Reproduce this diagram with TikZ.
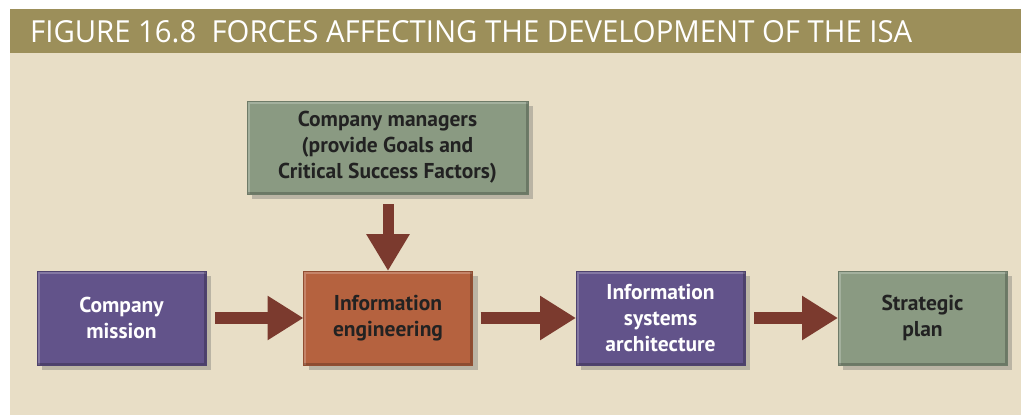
\documentclass[tikz,border=0pt]{standalone}
\usepackage{fontspec}
\setmainfont{PT Sans}
\newfontfamily\titlefont{Open Sans}
\usetikzlibrary{arrows.meta,shadows}
\definecolor{barcol}{HTML}{9C8F5A}
\definecolor{bgcol}{HTML}{E8DEC6}
\definecolor{greencol}{HTML}{8A9A82}
\definecolor{purplecol}{HTML}{62538A}
\definecolor{orangecol}{HTML}{B5623F}
\definecolor{arrowcol}{HTML}{7B3A2E}
\definecolor{darktext}{HTML}{222222}
\tikzset{
  fbox/.style={rectangle, outer sep=0pt, inner sep=2pt, align=center,
    font=\bfseries\fontsize{21.5}{26}\selectfont,
    drop shadow={shadow xshift=5pt, shadow yshift=-5pt, opacity=0.35, fill=black!60},
    path picture={
      \draw[white, opacity=0.22, line width=5pt]
        (path picture bounding box.south west) -- (path picture bounding box.north west) -- (path picture bounding box.north east);
      \draw[black, opacity=0.22, line width=5pt]
        (path picture bounding box.south west) -- (path picture bounding box.south east) -- (path picture bounding box.north east);
    }},
  smallbox/.style={fbox, minimum width=169pt, minimum height=94pt},
  greenbox/.style={fill=greencol, draw=greencol!80!black, text=darktext},
  purplebox/.style={fill=purplecol, draw=purplecol!80!black, text=white},
  orangebox/.style={fill=orangecol, draw=orangecol!80!black, text=darktext},
  bigarrow/.style={draw=arrowcol, line width=12pt, -{Triangle[length=36pt,width=42pt]}, arrowcol}
}
\begin{document}
\begin{tikzpicture}[x=1pt,y=-1pt]
\useasboundingbox (0,0) rectangle (1021,415);
\fill[white] (0,0) rectangle (1021,415);
\fill[bgcol] (10,53) rectangle (1021,415);
\fill[barcol] (10,9) rectangle (1021,53);
\node[anchor=base west, inner sep=0pt, text=white] (title) at (30,42.5)
  {\resizebox{882pt}{22pt}{\titlefont FIGURE 16.8\ \ FORCES AFFECTING THE DEVELOPMENT OF THE ISA}};

\node[fbox, greenbox, minimum width=281pt, minimum height=93pt] (managers) at (387.5,147.5)
  {Company managers\\(provide Goals and\\Critical Success Factors)};
\node[smallbox, purplebox] (mission) at (121.5,318) {Company\\mission};
\node[smallbox, orangebox] (infoeng) at (388,318) {Information\\engineering};
\node[smallbox, purplebox] (isa) at (660.5,318) {Information\\systems\\architecture};
\node[smallbox, greenbox] (strategic) at (922.5,318) {Strategic\\plan};

\draw[bigarrow, shorten <=9pt] (mission.east) -- (infoeng.west);
\draw[bigarrow, shorten <=8pt] (infoeng.east) -- (isa.west);
\draw[bigarrow, shorten <=9pt] (isa.east) -- (strategic.west);
\draw[bigarrow, line width=11pt, -{Triangle[length=37pt,width=41pt]}, shorten <=10pt] (managers.south -| infoeng.north) -- (infoeng.north);
\end{tikzpicture}
\end{document}
